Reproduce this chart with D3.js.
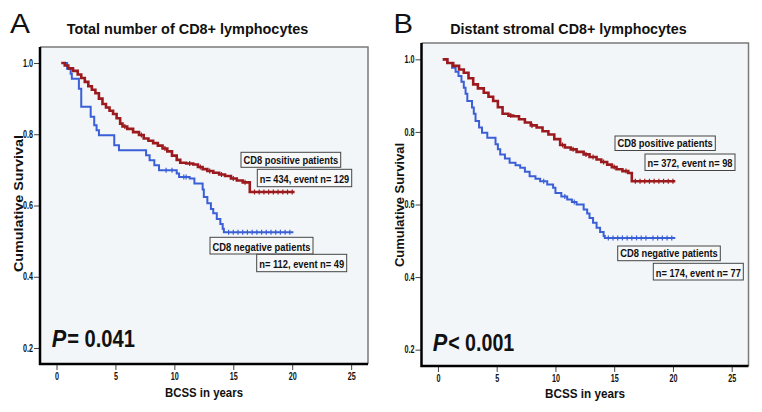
<!DOCTYPE html>
<html><head><meta charset="utf-8">
<script src="https://cdn.jsdelivr.net/npm/d3@7/dist/d3.min.js"></script>
<style>
body{margin:0;background:#fff}
text{font-family:"Liberation Sans",Arial,Helvetica,sans-serif}
</style>
</head><body>
<svg id="c" width="762" height="412"></svg>
<script>
// ---- data ----
const xTicks = [0, 5, 10, 15, 20, 25];
const yTicks = [0.2, 0.4, 0.6, 0.8, 1.0];

// Panel A: Total number of CD8+ lymphocytes
const aPosTime = [0.4,0.7,1.0,1.4,1.8,2.1,2.4,2.7,3.0,3.3,3.6,3.9,4.2,4.5,4.8,5.1,5.4,5.6,6.0,6.5,7.0,7.4,7.8,8.2,8.6,9.0,9.4,9.8,10.2,10.5,11.0,11.6,12.0,12.4,12.8,13.3,13.8,14.3,14.8,15.3,15.8,16.4,20.2];
const aPosSurv = [1.0,0.993,0.985,0.978,0.968,0.958,0.947,0.935,0.925,0.915,0.900,0.885,0.875,0.866,0.857,0.845,0.830,0.822,0.815,0.806,0.798,0.788,0.782,0.775,0.768,0.760,0.752,0.740,0.728,0.720,0.718,0.715,0.708,0.702,0.697,0.692,0.687,0.683,0.676,0.670,0.665,0.638,0.638];
const aPosCens = [5.8,7.2,9.2,11.3,12.2,13.0,14.0,15.0,16.0,16.8,17.2,17.6,18.0,18.4,18.8,19.2,19.6,20.0];
const aNegTime = [0.55,0.9,1.2,1.3,1.9,2.1,2.9,3.2,3.4,3.6,4.9,5.3,7.6,7.9,8.3,8.7,10.2,10.4,11.3,11.7,12.4,12.5,12.8,13.1,13.3,13.6,13.9,14.1,14.2,20.1];
const aNegSurv = [1.0,0.984,0.970,0.956,0.928,0.877,0.849,0.825,0.811,0.797,0.769,0.755,0.741,0.727,0.713,0.699,0.690,0.680,0.676,0.662,0.645,0.624,0.606,0.590,0.578,0.562,0.548,0.535,0.525,0.525];
const aNegCens = [9.3,9.8,10.8,11.0,14.6,15.0,15.4,15.8,16.2,16.6,17.0,17.4,17.8,18.2,18.6,19.0,19.4,19.8];

// Panel B: Distant stromal CD8+ lymphocytes
const bPosTime = [0.4,0.8,1.3,1.8,2.2,2.6,3.0,3.4,3.9,4.3,4.7,5.1,5.5,6.0,6.4,6.9,7.4,7.9,8.4,8.9,9.4,9.9,10.4,10.8,11.3,11.8,12.4,12.9,13.5,13.9,14.4,14.8,15.2,15.7,16.2,16.5,20.2];
const bPosSurv = [1.0,0.990,0.982,0.972,0.963,0.948,0.931,0.920,0.908,0.897,0.885,0.868,0.850,0.845,0.843,0.835,0.826,0.818,0.812,0.802,0.793,0.780,0.764,0.757,0.752,0.745,0.738,0.731,0.724,0.717,0.710,0.703,0.697,0.692,0.687,0.664,0.664];
const bPosCens = [6.2,8.0,10.6,11.5,12.6,13.2,14.1,15.0,16.0,16.8,17.2,17.6,18.0,18.4,18.8,19.2,19.6,20.0];
const bNegTime = [0.45,0.8,1.2,1.5,1.75,2.0,2.2,2.35,2.5,2.9,3.05,3.2,3.5,3.75,4.2,4.9,5.1,5.3,5.7,6.1,6.6,7.0,7.4,7.8,8.3,8.7,9.3,9.8,10.0,10.5,11.0,11.4,11.8,12.4,12.7,12.9,13.2,13.5,13.8,14.1,14.2,20.2];
const bNegSurv = [1.0,0.990,0.977,0.966,0.954,0.938,0.922,0.905,0.885,0.867,0.850,0.830,0.812,0.798,0.784,0.766,0.752,0.738,0.727,0.715,0.708,0.701,0.690,0.678,0.671,0.664,0.655,0.646,0.632,0.622,0.614,0.607,0.600,0.586,0.575,0.563,0.550,0.536,0.524,0.513,0.508,0.508];
const bNegCens = [9.0,10.8,11.6,14.5,14.9,15.3,15.7,16.1,16.5,16.9,17.3,17.7,18.3,18.7,19.1,19.5,19.9];

const titles = ["Total number of CD8+ lymphocytes", "Distant stromal CD8+ lymphocytes"];
const letters = ["A", "B"];
const pTexts = [["P", "= 0.041"], ["P", "< 0.001"]];
const posLabel = "CD8 positive patients";
const negLabel = "CD8 negative patients";
const posCounts = ["n= 434, event n= 129", "n= 372, event n= 98"];
const negCounts = ["n= 112, event n= 49", "n= 174, event n= 77"];

// ---- layout ----
const panels = [
  { box:{l:40, r:368, t:47, b:364},
    pos:{time:aPosTime, surv:aPosSurv, cens:aPosCens},
    neg:{time:aNegTime, surv:aNegSurv, cens:aNegCens},
    letter:{x:10, y:33, w:20}, title:{x:66.7, y:33.5, w:241.6},
    ytitle:{x:22.5, c:203.5, w:137}, xtitle:{c:204, y:397, w:78},
    p:{x:51.7, y:346.5, w:83.3},
    boxes:[{x:241,y:152.3,w:99.7,h:15},{x:257.3,y:169.3,w:94.4,h:17.4},{x:210,y:237.3,w:103,h:16.7},{x:256.7,y:254.3,w:90,h:17.4}]
  },
  { box:{l:421.5, r:748.5, t:43, b:366},
    pos:{time:bPosTime, surv:bPosSurv, cens:bPosCens},
    neg:{time:bNegTime, surv:bNegSurv, cens:bNegCens},
    letter:{x:393.5, y:33, w:19.5}, title:{x:450.3, y:33.5, w:236.4},
    ytitle:{x:403.5, c:205, w:124}, xtitle:{c:585, y:398, w:80},
    p:{x:432.7, y:350.5, w:81.6},
    boxes:[{x:615,y:136,w:100.3,h:14.5},{x:645,y:154,w:90,h:16.5},{x:617.7,y:246,w:102.6,h:14.7},{x:653.3,y:263.3,w:90,h:16.7}]
  }
];

const RED = "#9c1a1d", BLUE = "#3a5fd6";
const svg = d3.select("#c");

function fit(sel, w){ sel.attr("textLength", w).attr("lengthAdjust", "spacingAndGlyphs"); }
function condense(sel, f){ sel.each(function(){ const L=this.getComputedTextLength(); d3.select(this).attr("textLength", L*f).attr("lengthAdjust","spacingAndGlyphs"); }); }
function survAt(time, surv, t){ let s = surv[0]; for (let i=0;i<time.length;i++){ if (time[i] <= t) s = surv[i]; } return s; }

panels.forEach((P, k) => {
  const g = svg.append("g");
  const x = d3.scaleLinear().domain([-1.4, 26.43]).range([P.box.l, P.box.r]);
  const y = d3.scaleLinear().domain([0.155, 1.045]).range([P.box.b, P.box.t]);

  g.append("rect").attr("x", P.box.l).attr("y", P.box.t)
    .attr("width", P.box.r - P.box.l).attr("height", P.box.b - P.box.t)
    .attr("fill", "#f3f6f9");
  g.append("path").attr("d", `M${P.box.l},${P.box.t}H${P.box.r}V${P.box.b}`)
    .attr("fill", "none").attr("stroke", "#7a7a7a").attr("stroke-width", 1.5);

  const ya = g.append("g").attr("transform", `translate(${P.box.l},0)`)
    .call(d3.axisLeft(y).tickValues(yTicks).tickFormat(d3.format(".1f")).tickSize(6).tickPadding(1));
  const xa = g.append("g").attr("transform", `translate(0,${P.box.b})`)
    .call(d3.axisBottom(x).tickValues(xTicks).tickSize(6).tickPadding(3));
  [ya, xa].forEach(a => {
    a.select(".domain").remove();
    a.selectAll(".tick line").attr("stroke", "#444").attr("stroke-width", 1);
    a.selectAll(".tick text").attr("font-size", 10).attr("font-weight", "bold")
      .attr("fill", "#111").attr("font-family", '"Liberation Sans",Arial,sans-serif');
  });
  condense(ya.selectAll(".tick text"), 0.72);
  condense(xa.selectAll(".tick text"), 0.72);
  g.append("path").attr("d", `M${P.box.l},${P.box.t}V${P.box.b}H${P.box.r}`)
    .attr("fill", "none").attr("stroke", "#000").attr("stroke-width", 2.5);

  const line = d3.line().x(d => x(d[0])).y(d => y(d[1])).curve(d3.curveStepAfter);
  [[P.neg, BLUE, 2], [P.pos, RED, 2.6]].forEach(([S, col, w]) => {
    const pts = S.time.map((t, i) => [t, S.surv[i]]);
    g.append("path").datum(pts).attr("d", line)
      .attr("fill", "none").attr("stroke", col).attr("stroke-width", w);
    g.selectAll(null).data(S.cens).enter().append("line")
      .attr("x1", d => x(d)).attr("x2", d => x(d))
      .attr("y1", d => y(survAt(S.time, S.surv, d)) - 2.5)
      .attr("y2", d => y(survAt(S.time, S.surv, d)) + 2.5)
      .attr("stroke", col).attr("stroke-width", 1.2);
  });

  const labels = [posLabel, posCounts[k], negLabel, negCounts[k]];
  P.boxes.forEach((b, i) => {
    g.append("rect").attr("x", b.x).attr("y", b.y).attr("width", b.w).attr("height", b.h)
      .attr("fill", "#f7f8f9").attr("stroke", "#444").attr("stroke-width", 1);
    g.append("text").attr("x", b.x + 2.5).attr("y", b.y + b.h - 3.5)
      .attr("font-size", 11.5).attr("font-weight", "bold").attr("fill", "#111")
      .text(labels[i]).call(fit, b.w - 5);
  });

  g.append("text").attr("x", P.letter.x).attr("y", P.letter.y).attr("font-size", 28)
    .attr("fill", "#111").text(letters[k]).call(fit, P.letter.w);
  g.append("text").attr("x", P.title.x).attr("y", P.title.y).attr("font-size", 15)
    .attr("font-weight", "bold").attr("fill", "#111").text(titles[k]).call(fit, P.title.w);
  g.append("text").attr("transform", `translate(${P.ytitle.x},${P.ytitle.c}) rotate(-90)`)
    .attr("text-anchor", "middle").attr("font-size", 13).attr("font-weight", "bold").attr("fill", "#111")
    .text("Cumulative Survival").call(fit, P.ytitle.w);
  g.append("text").attr("x", P.xtitle.c - P.xtitle.w / 2).attr("y", P.xtitle.y)
    .attr("font-size", 13).attr("font-weight", "bold").attr("fill", "#111")
    .text("BCSS in years").call(fit, P.xtitle.w);

  // P value: italic "P" and the rest as two adjacent texts
  const pW = 14.5;
  g.append("text").attr("x", P.p.x).attr("y", P.p.y)
    .attr("font-size", 23).attr("font-weight", "bold").attr("font-style", "italic").attr("fill", "#111")
    .text(pTexts[k][0]).call(fit, pW);
  g.append("text").attr("x", P.p.x + pW + 1).attr("y", P.p.y)
    .attr("font-size", 23).attr("font-weight", "bold").attr("fill", "#111")
    .text(pTexts[k][1]).call(fit, P.p.w - pW - 1);
});
</script>
</body></html>
